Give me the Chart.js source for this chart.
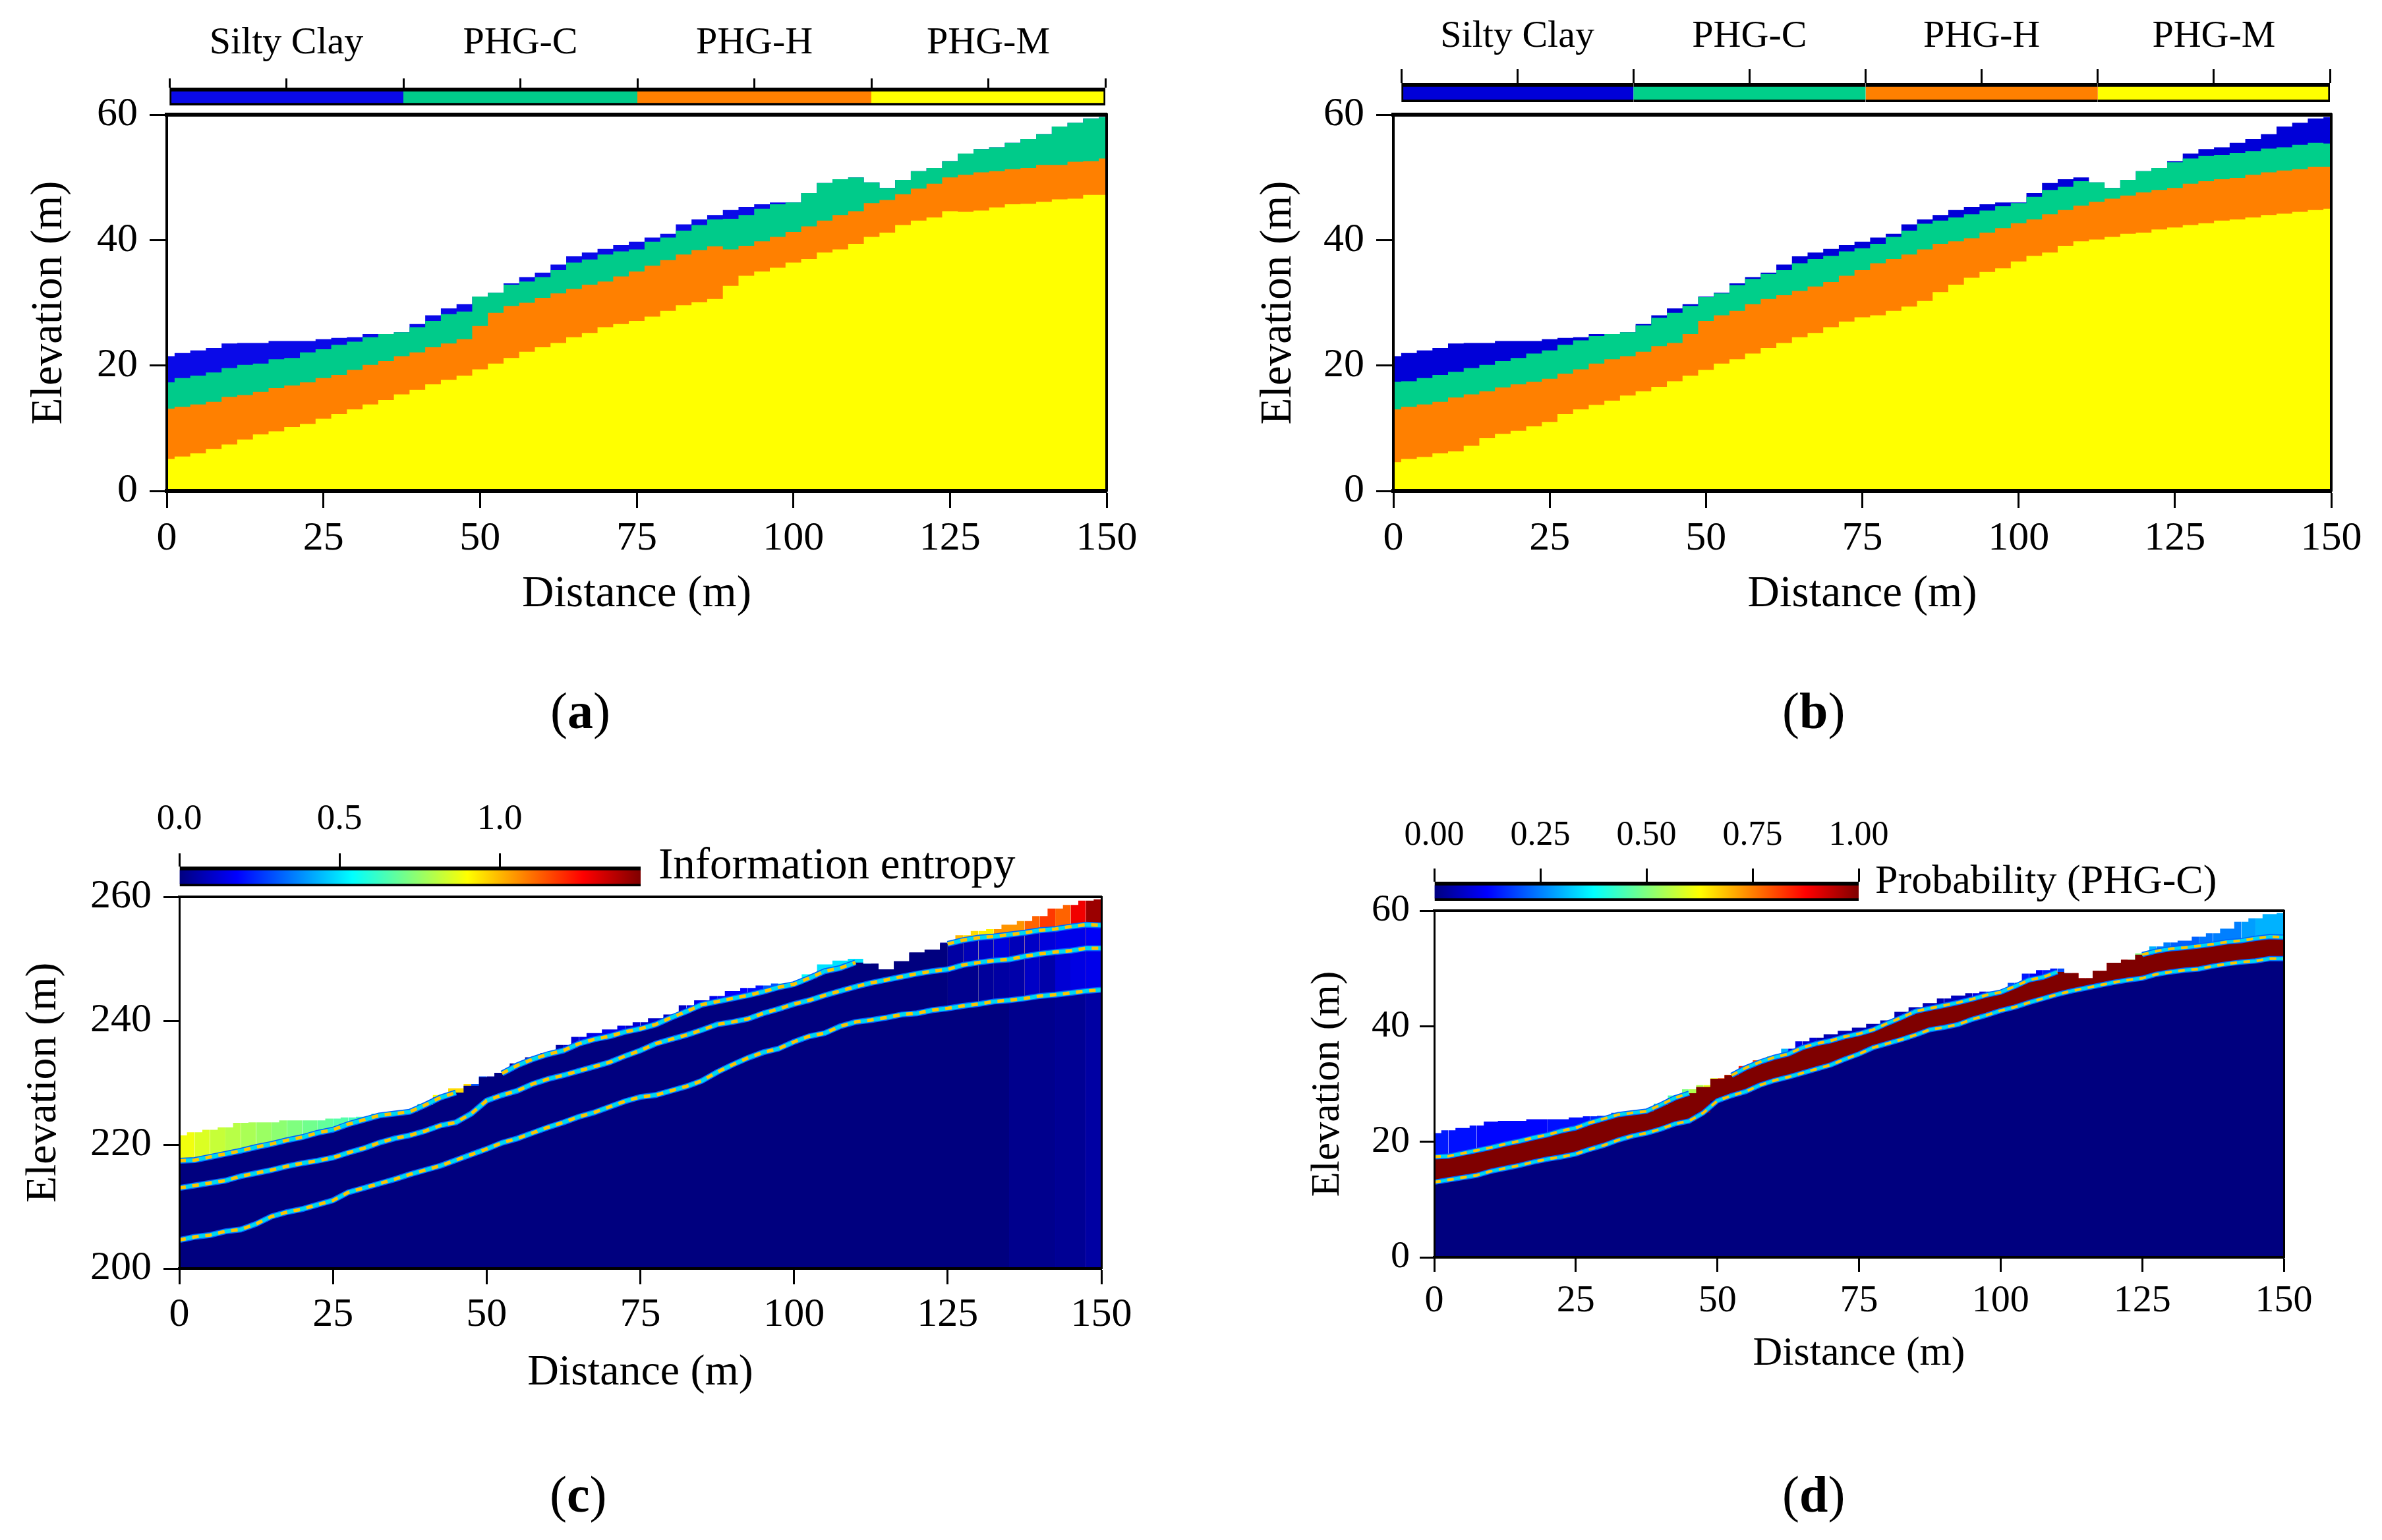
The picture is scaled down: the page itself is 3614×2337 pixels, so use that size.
<!DOCTYPE html>
<html>
<head>
<meta charset="utf-8">
<title>Elevation sections</title>
<script src="https://cdn.jsdelivr.net/npm/chart.js@4"></script>
<style>
html, body { margin: 0; background: #fff; }
body { position: relative; width: 3614px; height: 2337px; overflow: hidden; font-family: "Liberation Serif", serif; color: #000; }
canvas { position: absolute; }
.txt { position: absolute; white-space: nowrap; line-height: 1; }
</style>
</head>
<body>
<div class="txt" style="left:835px;top:1040px;font-size:78px">(<b>a</b>)</div>
<div class="txt" style="left:2704px;top:1040px;font-size:78px">(<b>b</b>)</div>
<div class="txt" style="left:834px;top:2229px;font-size:78px">(<b>c</b>)</div>
<div class="txt" style="left:2704px;top:2229px;font-size:78px">(<b>d</b>)</div>
<div class="txt" style="left:999px;top:1277px;font-size:67px">Information entropy</div>
<div class="txt" style="left:2845px;top:1303px;font-size:62px">Probability (PHG-C)</div>
<script>
const distance = [0,2.5,5,7.5,10,12.5,15,17.5,20,22.5,25,27.5,30,32.5,35,37.5,40,42.5,45,47.5,50,52.5,55,57.5,60,62.5,65,67.5,70,72.5,75,77.5,80,82.5,85,87.5,90,92.5,95,97.5,100,102.5,105,107.5,110,112.5,115,117.5,120,122.5,125,127.5,130,132.5,135,137.5,140,142.5,145,147.5,150];

const groundLevel = [21.5,22.0,22.4,22.8,23.5,23.6,23.6,23.9,23.9,23.9,24.2,24.4,24.5,25.0,25.0,25.3,26.6,28.0,29.1,29.8,31.0,31.6,33.1,34.1,34.8,36.1,37.4,38.0,38.6,39.2,39.75,40.4,41.0,42.5,43.3,44.0,44.8,45.3,45.7,46.0,46.0,47.5,49.1,49.7,50.0,49.2,48.3,49.6,51.0,51.5,52.6,53.8,54.5,54.8,55.5,56.1,56.9,58.1,58.7,59.4,59.6];

// panel (a) layer tops
const aPhgC = [17.3,18.0,18.4,18.9,19.6,20.1,20.3,21.0,21.2,22.1,22.6,23.3,23.8,24.5,25.0,25.3,26.1,27.1,28.2,28.6,31.0,31.6,32.9,33.4,34.1,35.2,36.4,36.9,37.7,38.2,38.5,39.75,40.4,41.5,42.4,43.3,43.4,44.0,45.0,45.7,46.0,47.5,49.1,49.7,50.0,49.2,48.3,49.6,51.0,51.5,52.6,53.8,54.5,54.8,55.5,56.1,56.9,58.1,58.7,59.4,59.6];
const aPhgH = [13.1,13.4,13.8,14.2,15.0,15.3,15.8,16.4,16.8,17.3,18.0,18.5,19.3,20.1,20.7,21.5,22.1,22.9,23.5,24.2,26.3,28.4,29.5,30.0,30.8,31.5,32.2,32.9,33.4,34.2,35.0,35.9,36.8,37.7,38.4,39.0,38.5,39.1,39.8,40.5,41.3,42.2,43.1,44.0,44.6,45.9,46.4,47.3,48.2,49.0,50.0,50.4,50.8,51.0,51.3,51.5,52.0,52.0,52.5,52.6,53.0];
const aPhgM = [5.1,5.5,6.0,6.7,7.4,8.2,9.0,9.5,10.2,10.7,11.5,12.3,13.0,13.8,14.5,15.4,16.1,17.0,17.7,18.4,19.4,20.3,21.2,22.2,22.9,23.6,24.5,25.2,26.1,26.6,27.1,27.8,28.7,29.6,30.1,30.6,32.7,34.3,35.0,35.6,36.4,37.0,38.0,38.5,39.4,40.5,41.2,42.4,43.1,43.6,44.6,44.5,44.7,45.2,45.7,45.8,46.1,46.5,46.6,47.2,47.2];

// panel (b) layer tops, also the seams of (c) and (d)
const bPhgC = [17.4,17.5,18.0,18.5,19.0,19.6,20.1,20.7,21.2,21.9,22.4,23.3,24.0,24.7,25.0,25.3,26.4,27.6,28.4,29.5,30.9,31.5,32.8,33.8,34.6,35.2,36.3,37.0,37.5,38.2,38.7,39.4,40.5,41.5,42.6,43.1,43.6,44.1,44.7,45.4,45.9,46.9,48.0,48.5,49.4,49.2,48.3,49.6,51.0,51.5,52.4,53.0,53.4,53.6,53.9,54.2,54.6,54.8,55.2,55.5,55.4];
const bPhgH = [13.0,13.4,13.8,14.2,14.9,15.4,15.9,16.5,17.0,17.4,17.9,18.7,19.4,20.3,21.0,21.5,22.2,23.1,23.6,25.0,27.1,28.0,28.7,29.8,30.6,31.2,31.9,32.6,33.3,34.3,35.2,36.3,37.0,37.7,38.5,39.4,39.8,40.3,41.2,41.9,42.7,43.3,44.1,44.8,45.5,46.1,46.6,47.1,47.6,48.0,48.3,49.0,49.4,49.7,49.9,50.4,50.8,51.1,51.3,51.7,51.7];
const bPhgM = [4.6,5.1,5.4,6.0,6.3,7.2,8.4,9.1,9.6,10.3,11.0,12.3,13.0,13.7,14.4,15.2,15.9,16.6,17.5,18.4,19.3,20.3,21.0,21.9,22.8,23.6,24.5,25.2,26.1,27.0,27.7,28.0,28.7,29.4,30.3,31.7,32.9,34.0,34.9,35.5,36.6,37.5,38.0,39.1,39.8,40.1,40.5,41.0,41.2,41.7,42.0,42.4,42.7,43.1,43.3,43.6,44.0,44.2,44.5,44.8,45.0];
// clay / PHG-C contact where it shows as a line in (c) and (d), null where the clay pinches out
const contactC = [17.4,17.5,18.0,18.5,19.0,19.6,20.1,20.7,21.2,21.9,22.4,23.3,24.0,24.7,25.0,25.3,26.4,27.6,28.4,null,null,31.5,32.8,33.8,34.6,35.2,36.3,37.0,37.5,38.2,38.7,39.4,40.5,41.5,42.6,43.1,43.6,44.1,44.7,45.4,45.9,46.9,48.0,48.5,49.4,null,null,null,null,null,52.4,53.0,53.4,53.6,53.9,54.2,54.6,54.8,55.2,55.5,55.4];

// panel (c) entropy per layer
const entropyClay = [.88,.85,.82,.8,.78,.76,.74,.72,.7,.68,.66,.64,.62,.6,.58,.62,.9,.95,.95,.3,.05,.05,.05,.05,.05,.12,.15,.15,.15,.12,.1,.1,.1,.15,.15,.18,.18,.2,.3,.65,.55,.5,.5,.5,.5,.05,.02,.02,.02,.05,1.0,.95,.92,1.05,1.05,1.12,1.18,1.12,1.28,1.4,1.42];
const entropyC = [0,0,0,0,0,0,0,0,0,0,0,0,0,0,0,0,0,0,0,0,0,0,0,0,0,0,0,0,0,0,0,0,0,0,0,0,0,0,0,0,0,0,0,0,0,0,0,0,0,0,.05,.08,.1,.13,.08,.1,.13,.15,.15,.17,.18];
const entropyH = [0,0,0,0,0,0,0,0,0,0,0,0,0,0,0,0,0,0,0,0,0,0,0,0,0,0,0,0,0,0,0,0,0,0,0,0,0,0,0,0,0,0,0,0,0,0,0,0,0,0,.02,.02,.04,.05,.06,.1,.06,.12,.14,.15,.16];
const entropyM = [0,0,0,0,0,0,0,0,0,0,0,0,0,0,0,0,0,0,0,0,0,0,0,0,0,0,0,0,0,0,0,0,0,0,0,0,0,0,0,0,0,0,0,0,0,0,0,0,0,0,0,0,0,0,.02,.02,.02,.03,.03,.05,.03];

// panel (d) probability in the top layer
const probClay = [.15,.14,.14,.13,.13,.13,.13,.13,.14,.14,.14,.16,.2,.3,.35,.4,.45,.5,.55,.6,.8,.85,.8,.6,.3,.1,.08,.05,.05,.05,.05,.05,.05,.05,.05,.05,.06,.06,.1,.2,.2,.15,.12,.15,.2,.9,.95,.9,.9,.5,.3,.25,.22,.22,.24,.25,.25,.28,.3,.3,.32];

const soilLabels = ['Silty Clay', 'PHG-C', 'PHG-H', 'PHG-M'];
const soilColors = ['#0a0ae8', '#00cb8a', '#ff8000', '#ffff00'];
const soilColorsB = ['#0000d8', '#00cf8a', '#ff8000', '#ffff00'];
const soilWidth = [1, 1, 1, 1];
const jetStops = [[0,0,127],[0,0,255],[0,127,255],[0,255,255],[127,255,127],[255,255,0],[255,127,0],[255,0,0],[127,0,0]];

const serif = '"Liberation Serif"';
const ink = '#000';

function jet(t) {
    const p = Math.min(Math.max(t, 0), 1) * (jetStops.length - 1);
    const i = Math.min(Math.floor(p), jetStops.length - 2);
    const c = jetStops[i].map((v, k) => Math.round(v + (jetStops[i + 1][k] - v) * (p - i)));
    return `rgb(${c[0]},${c[1]},${c[2]})`;
}

function addCanvas(left, top, width, height) {
    const c = document.createElement('canvas');
    c.width = width;
    c.height = height;
    c.style.left = left + 'px';
    c.style.top = top + 'px';
    c.style.width = width + 'px';
    c.style.height = height + 'px';
    document.body.appendChild(c);
    return c;
}

function band(values, color) {
    return { data: values, backgroundColor: color, borderWidth: 0, fill: 'start', pointRadius: 0, stepped: 'middle' };
}

function heatBand(values, heat, max) {
    return {
        data: values, backgroundColor: jet(0), borderWidth: 0, fill: 'start', pointRadius: 0, stepped: 'middle',
        segment: { backgroundColor: ctx => jet(heat[ctx.p0DataIndex] / max) }
    };
}

// thin contact line between two layers, blue edge, cyan, then yellow dots
function seam(values, w) {
    const line = (color, width, dash) => ({
        data: values, borderColor: color, borderWidth: width, borderDash: dash, fill: false, pointRadius: 0, borderCapStyle: 'butt'
    });
    return [line('#ffc400', w, [10, 10]), line('#00d8f0', w + 1, []), line('#0060ff', w + 4, [])];
}

function section(box, yMin, yMax, datasets) {
    const lh = box.titleFont * 1.2;
    const cLeft = Math.round(box.titleX - lh / 2);
    const cBottom = Math.round(box.titleY + lh / 2);
    const cTop = box.top - 50;
    const cRight = box.right + 80;
    const edge = (w) => ({ display: true, width: w, color: ink, z: 2 });
    const noTicks = { drawOnChartArea: false, drawTicks: false };
    new Chart(addCanvas(cLeft, cTop, cRight - cLeft, cBottom - cTop), {
        type: 'line',
        data: { labels: distance, datasets: datasets },
        options: {
            responsive: false,
            animation: false,
            devicePixelRatio: 1,
            layout: { padding: { top: box.top - cTop, right: cRight - box.right, left: 0, bottom: 0 } },
            plugins: { legend: { display: false }, tooltip: { enabled: false } },
            scales: {
                x: {
                    type: 'linear', min: 0, max: 150,
                    title: { display: true, text: 'Distance (m)', color: ink, padding: 0, font: { family: serif, size: box.titleFont } },
                    ticks: { stepSize: 25, color: ink, padding: box.xPad, maxRotation: 0, minRotation: 0, autoSkip: false, font: { family: serif, size: box.tickFont } },
                    grid: { drawOnChartArea: false, tickLength: box.tick, tickWidth: 3, tickColor: ink },
                    border: edge(box.hEdge),
                    afterFit: s => { s.height = cBottom - box.bottom; s.paddingLeft = 0; s.paddingRight = 0; }
                },
                y: {
                    min: yMin, max: yMax,
                    title: { display: true, text: 'Elevation (m)', color: ink, padding: 0, font: { family: serif, size: box.titleFont } },
                    ticks: { stepSize: 20, color: ink, padding: box.yPad, font: { family: serif, size: box.tickFont } },
                    grid: { drawOnChartArea: false, tickLength: box.tick, tickWidth: 3, tickColor: ink },
                    border: edge(box.vEdge),
                    afterFit: s => { s.width = box.left - cLeft; s.paddingTop = 0; s.paddingBottom = 0; }
                },
                xTop: {
                    axis: 'x', type: 'linear', position: 'top', min: 0, max: 150,
                    ticks: { display: false }, grid: noTicks, border: edge(box.hEdge),
                    afterFit: s => { s.height = 0; s.paddingLeft = 0; s.paddingRight = 0; }
                },
                yRight: {
                    axis: 'y', type: 'linear', position: 'right', min: yMin, max: yMax,
                    ticks: { display: false }, grid: noTicks, border: edge(box.vEdge),
                    afterFit: s => { s.width = 0; s.paddingTop = 0; s.paddingBottom = 0; }
                }
            }
        }
    });
}

function colorBar(box, min, max, step, label, datasets) {
    const cTop = box.labelY - 70;
    const cLeft = box.left - 120;
    const cRight = box.right + 120;
    new Chart(addCanvas(cLeft, cTop, cRight - cLeft, box.bottom - cTop), {
        type: 'bar',
        data: { labels: ['bar'], datasets: datasets },
        options: {
            indexAxis: 'y',
            responsive: false,
            animation: false,
            devicePixelRatio: 1,
            layout: { padding: { left: box.left - cLeft, right: cRight - box.right, top: 0, bottom: 0 } },
            plugins: { legend: { display: false }, tooltip: { enabled: false } },
            scales: {
                x: {
                    type: 'linear', position: 'top', stacked: true, min: min, max: max,
                    ticks: { stepSize: step, includeBounds: box.ends, color: ink, callback: label, padding: box.pad, maxRotation: 0, minRotation: 0, autoSkip: false, font: { family: serif, size: box.font } },
                    grid: { drawOnChartArea: false, tickLength: box.top - box.tickTop, tickWidth: 3, tickColor: ink },
                    border: { display: false },
                    afterFit: s => { s.height = box.top - cTop; s.paddingLeft = 0; s.paddingRight = 0; }
                },
                y: { display: false, stacked: true }
            }
        }
    });
}

function soilBar(colors) {
    return colors.map((c, i) => ({
        data: [soilWidth[i]], backgroundColor: c, borderColor: ink, borderSkipped: false,
        borderWidth: { top: 6, bottom: 4, left: i === 0 ? 3 : 0, right: i === 3 ? 3 : 0 },
        barPercentage: 1, categoryPercentage: 1
    }));
}

function jetBar(value) {
    return [{
        data: [value], borderColor: ink, borderSkipped: false,
        borderWidth: { top: 6, bottom: 4, left: 0, right: 0 },
        barPercentage: 1, categoryPercentage: 1,
        backgroundColor: ctx => {
            const a = ctx.chart.chartArea;
            if (!a) return '#00007f';
            const g = ctx.chart.ctx.createLinearGradient(a.left, 0, a.right, 0);
            jetStops.forEach((s, i) => g.addColorStop(i / (jetStops.length - 1), `rgb(${s[0]},${s[1]},${s[2]})`));
            return g;
        }
    }];
}

const soilLabel = v => Number.isInteger(v) ? '' : soilLabels[Math.floor(v)];
const plus200 = a => a.map(v => v === null ? null : v + 200);

function layers(c, h, m, colors) {
    return [band(m, colors[3]), band(h, colors[2]), band(c, colors[1]), band(groundLevel, colors[0])];
}

// (a)
section({ left: 253, right: 1679, top: 174, bottom: 745, titleX: 75, titleY: 903, titleFont: 67, tickFont: 62, tick: 26, xPad: 10, yPad: 18, hEdge: 6, vEdge: 4 },
    0, 60, layers(aPhgC, aPhgH, aPhgM, soilColors));
colorBar({ left: 257, right: 1677, top: 133, bottom: 160, tickTop: 119, labelY: 58, font: 58, pad: 18, ends: true }, 0, 4, 0.5, soilLabel, soilBar(soilColors));

// (b)
section({ left: 2114, right: 3537, top: 174, bottom: 745, titleX: 1940, titleY: 903, titleFont: 67, tickFont: 62, tick: 26, xPad: 10, yPad: 18, hEdge: 6, vEdge: 4 },
    0, 60, layers(bPhgC, bPhgH, bPhgM, soilColorsB));
colorBar({ left: 2126, right: 3535, top: 126, bottom: 155, tickTop: 105, labelY: 54, font: 58, pad: 14, ends: true }, 0, 4, 0.5, soilLabel, soilBar(soilColorsB));

// (c)
section({ left: 272, right: 1671, top: 1361, bottom: 1925, titleX: 67, titleY: 2083, titleFont: 66, tickFont: 62, tick: 24, xPad: 10, yPad: 18, hEdge: 4, vEdge: 3 },
    200, 260, [
        ...seam(plus200(contactC), 5), ...seam(plus200(bPhgH), 5), ...seam(plus200(bPhgM), 5),
        heatBand(plus200(bPhgM), entropyM, 1.44), heatBand(plus200(bPhgH), entropyH, 1.44),
        heatBand(plus200(bPhgC), entropyC, 1.44), heatBand(plus200(groundLevel), entropyClay, 1.44)
    ]);
colorBar({ left: 272, right: 972, top: 1315, bottom: 1345, tickTop: 1295, labelY: 1241, font: 55, pad: 18, ends: false }, 0, 1.44, 0.5,
    v => v.toFixed(1), jetBar(1.44));

// (d)
section({ left: 2176, right: 3465, top: 1382, bottom: 1908, titleX: 2015, titleY: 2055, titleFont: 62, tickFont: 58, tick: 22, xPad: 10, yPad: 15, hEdge: 4, vEdge: 3 },
    0, 60, [
        ...seam(contactC, 4), ...seam(bPhgH, 4),
        band(bPhgH, '#00007f'), band(bPhgC, '#7f0000'), heatBand(groundLevel, probClay, 1)
    ]);
colorBar({ left: 2176, right: 2820, top: 1338, bottom: 1367, tickTop: 1318, labelY: 1267, font: 52, pad: 18, ends: true }, 0, 1, 0.25,
    v => v.toFixed(2), jetBar(1));
</script>
</body>
</html>
